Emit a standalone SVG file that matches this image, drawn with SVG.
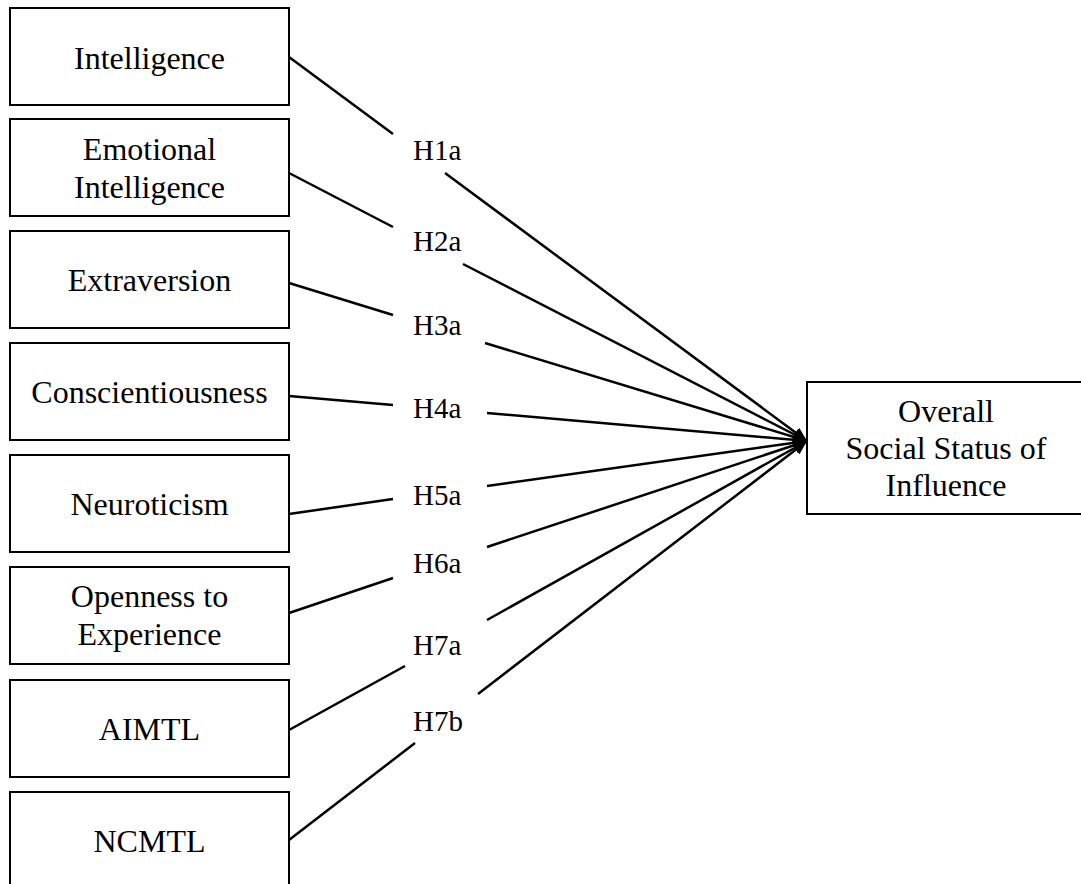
<svg xmlns="http://www.w3.org/2000/svg" width="1081" height="884" viewBox="0 0 1081 884">
<style>
.box{fill:#fff;stroke:#000;stroke-width:2}
.t{font-family:"Liberation Serif","Times New Roman",serif;font-size:32px;fill:#000;text-anchor:middle}
.lbl{font-family:"Liberation Serif","Times New Roman",serif;font-size:29px;fill:#000}
.c{fill:none;stroke:#000;stroke-width:2.5}
</style>
<defs>
<marker id="ah" viewBox="0 0 14 12" refX="14" refY="6" markerWidth="14" markerHeight="12" markerUnits="userSpaceOnUse" orient="auto">
<path d="M0,0 L14,6 L0,12 Z" fill="#000"/>
</marker>
</defs>
<rect width="1081" height="884" fill="#fff"/>
<g id="n1"><rect class="box" x="10" y="8" width="279" height="97"/><text class="t" x="149.5" y="69">Intelligence</text></g>
<g id="n2"><rect class="box" x="10" y="119" width="279" height="97"/><text class="t" x="149.5" y="160">Emotional</text><text class="t" x="149.5" y="198">Intelligence</text></g>
<g id="n3"><rect class="box" x="10" y="231" width="279" height="97"/><text class="t" x="149.5" y="291">Extraversion</text></g>
<g id="n4"><rect class="box" x="10" y="343" width="279" height="97"/><text class="t" x="149.5" y="403">Conscientiousness</text></g>
<g id="n5"><rect class="box" x="10" y="455" width="279" height="97"/><text class="t" x="149.5" y="515">Neuroticism</text></g>
<g id="n6"><rect class="box" x="10" y="567" width="279" height="97"/><text class="t" x="149.5" y="607">Openness to</text><text class="t" x="149.5" y="645">Experience</text></g>
<g id="n7"><rect class="box" x="10" y="680" width="279" height="97"/><text class="t" x="149.5" y="740">AIMTL</text></g>
<g id="n8"><rect class="box" x="10" y="792" width="279" height="97"/><text class="t" x="149.5" y="852">NCMTL</text></g>
<g id="target"><rect class="box" x="807" y="382" width="280" height="132"/><text class="t" x="946" y="422">Overall</text><text class="t" x="946" y="459">Social Status of</text><text class="t" x="946" y="496">Influence</text></g>
<g id="connectors">
<path class="c" d="M289,57 L393,134"/><path class="c" d="M445,173 L807,441" marker-end="url(#ah)"/>
<path class="c" d="M289,173 L393,227"/><path class="c" d="M463,264 L807,441" marker-end="url(#ah)"/>
<path class="c" d="M289,283 L393,315"/><path class="c" d="M485,343 L807,441" marker-end="url(#ah)"/>
<path class="c" d="M289,396 L393,405"/><path class="c" d="M487,413 L807,441" marker-end="url(#ah)"/>
<path class="c" d="M289,514 L393,499"/><path class="c" d="M487,486 L807,441" marker-end="url(#ah)"/>
<path class="c" d="M289,613 L393,578"/><path class="c" d="M487,547 L807,441" marker-end="url(#ah)"/>
<path class="c" d="M289,730 L405,666"/><path class="c" d="M487,620 L807,441" marker-end="url(#ah)"/>
<path class="c" d="M289,840 L415,743"/><path class="c" d="M478,694 L807,441" marker-end="url(#ah)"/>
</g>
<g id="labels">
<text class="lbl" x="413" y="160">H1a</text>
<text class="lbl" x="413" y="251">H2a</text>
<text class="lbl" x="413" y="335">H3a</text>
<text class="lbl" x="413" y="418">H4a</text>
<text class="lbl" x="413" y="505">H5a</text>
<text class="lbl" x="413" y="573">H6a</text>
<text class="lbl" x="413" y="655">H7a</text>
<text class="lbl" x="413" y="731">H7b</text>
</g>
</svg>
